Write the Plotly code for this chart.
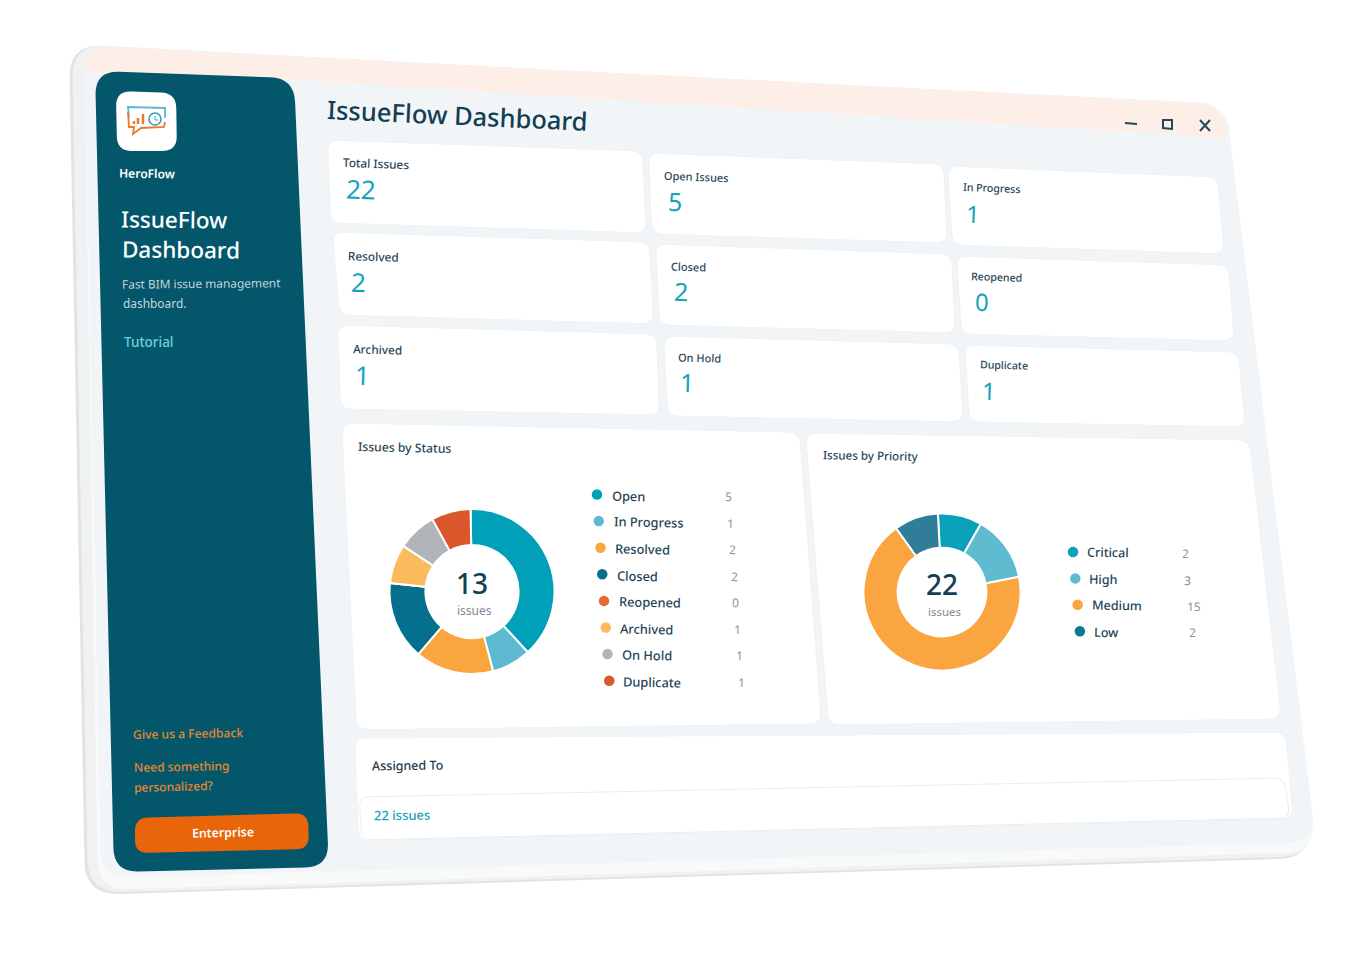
import plotly.graph_objects as go

# data
card_labels = ["Total Issues", "Open Issues", "In Progress", "Resolved", "Closed",
               "Reopened", "Archived", "On Hold", "Duplicate"]
card_values = [22, 5, 1, 2, 2, 0, 1, 1, 1]

status_labels = ["Open", "In Progress", "Resolved", "Closed", "Reopened",
                 "Archived", "On Hold", "Duplicate"]
status_values = [5, 1, 2, 2, 0, 1, 1, 1]
status_colors = ["#01a0b9", "#5cb9d0", "#fba53f", "#05708e", "#ea6a2e",
                 "#fbbb5c", "#b1b5b9", "#d9572b"]

priority_labels = ["Critical", "High", "Medium", "Low"]
priority_values = [2, 3, 15, 2]
priority_colors = ["#0aa1bb", "#5fbbd0", "#fba541", "#2f7d98"]
priority_dots = ["#0aa1bb", "#5fbbd0", "#fba541", "#0a7795"]

DARK = "#123f54"
TEAL = "#17a2bb"
W, H = 1344, 938
OX, OY = 8, 8


def rounded(c, r):
    # rounded quadrilateral from four corners, in page pixels
    n = len(c)
    p = ""
    for i in range(n):
        a, b, d = c[i - 1], c[i], c[(i + 1) % n]
        la = ((a[0] - b[0]) ** 2 + (a[1] - b[1]) ** 2) ** 0.5
        ld = ((d[0] - b[0]) ** 2 + (d[1] - b[1]) ** 2) ** 0.5
        s = (b[0] + (a[0] - b[0]) * r / la, b[1] + (a[1] - b[1]) * r / la)
        e = (b[0] + (d[0] - b[0]) * r / ld, b[1] + (d[1] - b[1]) * r / ld)
        p += ("M" if i == 0 else "L") + f"{s[0]:.1f},{s[1]:.1f} "
        p += f"Q{b[0]},{b[1]} {e[0]:.1f},{e[1]:.1f} "
    return p + "Z"


def grown(c, dx=1.5, dy=1):
    return [(c[0][0] - dx, c[0][1] - dy), (c[1][0] + dx, c[1][1] - dy),
            (c[2][0] + dx, c[2][1] + dy), (c[3][0] - dx, c[3][1] + dy)]


shapes = []


def panel(c, r, fill, line=None, lw=1):
    shapes.append(dict(type="path", path=rounded(c, r), fillcolor=fill, layer="below",
                       line=dict(color=line or fill, width=lw if line else 0),
                       xref="x", yref="y"))


def stroke(path, color, lw=2):
    shapes.append(dict(type="path", path=path, line=dict(color=color, width=lw),
                       layer="below", xref="x", yref="y"))


annotations = []


def label(x, y, text, size, color=DARK, angle=1.5, weight=400, anchor="left"):
    if anchor == "left":
        x -= 2
    annotations.append(dict(x=x, y=y - 0.7, text=text, xref="x", yref="y", showarrow=False,
                            xanchor=anchor, yanchor="middle", textangle=angle,
                            font=dict(family="Noto Sans", size=size, color=color, weight=weight)))


# device body
panel([(69, 44), (1222, 108), (1313, 858), (85, 895)], 34, "#e1e4e5")
panel([(72, 44), (1224, 106), (1315, 856), (88, 893)], 34, "#eff1f2")
panel([(84, 46), (1226, 104), (1316, 852), (98, 890)], 30, "#f8fafa")
panel([(85, 46), (1226, 104), (1316, 842), (101, 878)], 28, "#f1f5f7")
# pink band along the top of the window
shapes.append(dict(type="path", layer="below", fillcolor="#fdeee7", line=dict(width=0),
                   xref="x", yref="y",
                   path="M85,66 Q87,46 110,47 L1198,103 Q1222,105 1228,138 L295,80 L85,72 Z"))

# sidebar
panel([(95, 71), (294, 78), (329, 867), (114, 872)], 24, "#04566b")
panel([(116, 91), (176, 93), (177, 151), (117, 151)], 15, "#ffffff")
# logo
stroke("M129,118 L128,107 L165,108 L165,118", "#5cb9d0", 1.8)
stroke("M128,112 L129,127 L134,127 L133,134 L141,128 L164,127 L165,122", "#ea7a2e", 1.8)
stroke("M134,121 L134,124 M138,118 L138,124 M143,114 L143,124", "#ea7a2e", 2.5)
shapes.append(dict(type="circle", x0=149, x1=161, y0=113, y1=125, layer="below",
                   line=dict(color="#2fa3bd", width=1.6), xref="x", yref="y"))
stroke("M155,116 L155,120 L158,120", "#2fa3bd", 1)
# enterprise button
panel([(135, 818), (308, 813), (309, 849), (135, 853)], 13, "#e8650a")

# stat cards
card_corners = [
    [(329, 141), (641, 152), (645, 232), (332, 222)],
    [(650, 154), (942, 165), (946, 242), (653, 233)],
    [(949, 167), (1216, 178), (1223, 253), (954, 244)],
    [(334, 233), (648, 243), (652, 323), (341, 314)],
    [(657, 245), (950, 255), (954, 332), (661, 324)],
    [(958, 257), (1227, 266), (1233, 340), (963, 333)],
    [(339, 326), (655, 335), (658, 414), (342, 408)],
    [(665, 337), (957, 345), (962, 421), (669, 415)],
    [(966, 346), (1237, 353), (1244, 426), (971, 421)],
]
for c in card_corners:
    panel(grown(c), 11, "#ffffff", "#edf2f4")

label_pos = [(343, 164), (664, 177), (963, 189), (348, 257), (671, 267), (971, 278),
             (353, 350), (678, 358), (980, 366)]
value_pos = [(345, 190), (667, 202), (965, 214), (350, 283), (673, 292), (974, 302),
             (354, 376), (680, 383), (982, 391)]
angles = [2.2, 2.2, 2.2, 1.9, 1.9, 1.9, 1.5, 1.5, 1.5]
label_sizes = [11.8, 11, 10.6]
value_sizes = [26, 25, 24]
for i in range(9):
    label(*label_pos[i], card_labels[i], label_sizes[i % 3], "#2a4656", angles[i], 500)
    label(*value_pos[i], str(card_values[i]), value_sizes[i % 3], TEAL, angles[i])

# chart panels
panel(grown([(343, 424), (798, 433), (820, 723), (358, 729)]), 12, "#ffffff", "#edf2f4")
panel(grown([(807, 434), (1248, 441), (1280, 718), (830, 724)]), 12, "#ffffff", "#edf2f4")
panel(grown([(356, 739), (1284, 733), (1292, 818), (360, 840)]), 11, "#ffffff", "#edf2f4")
panel([(359, 797), (1284, 778), (1290, 818), (362, 840)], 10, "#ffffff", "#e8edf0")

# window controls
stroke("M1125,123 L1137,124", "#1f4a5d", 2)
stroke("M1163,120 L1172,120 L1172,129 L1163,128 Z", "#1f4a5d", 2)
stroke("M1200,120 L1210,131 M1210,120 L1200,131", "#1f4a5d", 2)

# text on the window
label(326, 116, "IssueFlow Dashboard", 25.5, DARK, 2.6, 500)
label(119, 174, "HeroFlow", 12.1, "#ffffff", 1, 600)
label(121, 220, "IssueFlow", 22.5, "#ffffff", 0.5, 500)
label(122, 250, "Dashboard", 22.5, "#ffffff", 0.5, 500)
label(122, 284, "Fast BIM issue management", 11.9, "#c3d6dc", -0.5)
label(123, 304, "dashboard.", 11.9, "#c3d6dc", 0)
label(124, 343, "Tutorial", 13.5, "#6fd0dc", 0, 500)
label(133, 734, "Give us a Feedback", 12.1, "#e58a2e", -1, 500)
label(134, 767, "Need something", 12, "#e58a2e", -1, 500)
label(134, 787, "personalized?", 12, "#e58a2e", -1.5, 500)
label(223, 833, "Enterprise", 12.3, "#ffffff", -1.5, 600, "center")
label(358, 448, "Issues by Status", 12.2, "#2a4656", 1.2, 500)
label(823, 456, "Issues by Priority", 11.6, "#2a4656", 1, 500)
label(372, 766, "Assigned To", 12.5, "#1f3a4a", -0.7, 500)
label(374, 816, "22 issues", 13, TEAL, -0.7, 500)
label(472, 584, str(sum(status_values)), 28, DARK, 0, 500, "center")
label(474, 611.5, "issues", 12, "#7f8d97", 0, 400, "center")
label(942, 585, str(sum(priority_values)), 28, DARK, 0, 500, "center")
label(944, 612.5, "issues", 11.5, "#7f8d97", 0, 400, "center")

# legends
dots_x, dots_y, dots_c = [], [], []
for i, name in enumerate(status_labels):
    dots_x.append(597 + 1.75 * i)
    dots_y.append(494.5 + 26.6 * i)
    dots_c.append(status_colors[i])
    label(612 + 1.6 * i, 496.5 + 26.6 * i, name, 12.8, "#1d4456", 1.2, 500)
    label(725 + 1.8 * i, 497.5 + 26.5 * i, str(status_values[i]), 12, "#8a959c", 1.2)
for i, name in enumerate(priority_labels):
    dots_x.append(1073 + 2.3 * i)
    dots_y.append(552 + 26.4 * i)
    dots_c.append(priority_dots[i])
    label(1087 + 2.2 * i, 553.5 + 26.4 * i, name, 12.6, "#1d4456", 1, 500)
    label(1182 + 2.3 * i, 554.5 + 26.2 * i, str(priority_values[i]), 12, "#8a959c", 1)

fig = go.Figure()
fig.add_trace(go.Scatter(x=dots_x, y=dots_y, mode="markers", hoverinfo="skip",
                         marker=dict(size=10.5, color=dots_c, line=dict(width=0))))


def donut(values, names, colors, cx, cy, d, rot):
    fig.add_trace(go.Pie(
        values=values, labels=names, hole=0.565, sort=False, direction="clockwise",
        rotation=rot, textinfo="none", showlegend=False,
        marker=dict(colors=colors, line=dict(color="#ffffff", width=2)),
        domain=dict(x=[(cx - d / 2 - OX) / W, (cx + d / 2 - OX) / W],
                    y=[1 - (cy + d / 2 - OY) / H, 1 - (cy - d / 2 - OY) / H])))


donut(status_values, status_labels, status_colors, 472, 591.5, 165, -1)
donut(priority_values, priority_labels, priority_colors, 942, 592, 157, -3)

fig.update_layout(
    width=W, height=H, margin=dict(l=0, r=0, t=0, b=0), showlegend=False,
    paper_bgcolor="#ffffff", plot_bgcolor="rgba(0,0,0,0)",
    xaxis=dict(range=[OX, OX + W], visible=False, fixedrange=True),
    yaxis=dict(range=[OY + H, OY], visible=False, fixedrange=True),
    shapes=shapes, annotations=annotations, hovermode=False,
)

fig.write_html("out.html")
